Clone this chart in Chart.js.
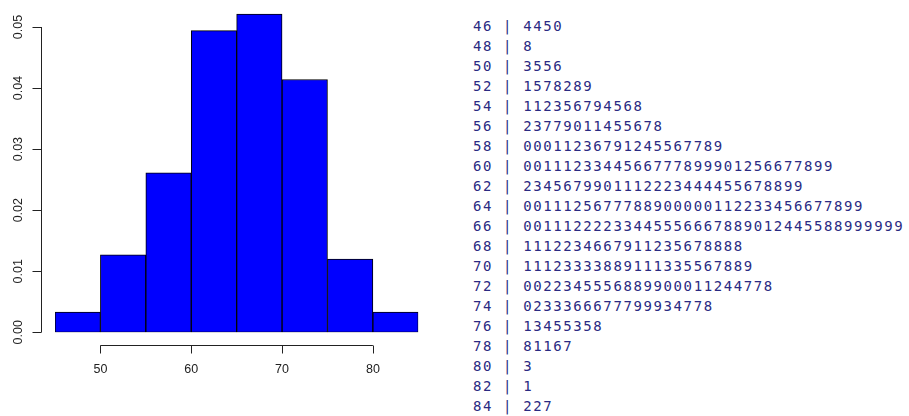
<!DOCTYPE html>
<html>
<head>
<meta charset="utf-8">
<script src="https://cdn.jsdelivr.net/npm/chart.js@4"></script>
<style>
  html, body { margin: 0; padding: 0; background: #fff; }
  body { width: 909px; height: 416px; position: relative; overflow: hidden; }
  #histWrap { position: absolute; left: 0; top: 0; width: 460px; height: 416px; }
  #stemLeaf {
    position: absolute; left: 473px; top: 15.5px; margin: 0;
    font: 14px "DejaVu Sans Mono", monospace; letter-spacing: 1.6px;
    line-height: 20.03px; color: #2a2a82;
  }
</style>
</head>
<body>
<div id="histWrap"><canvas id="histChart"></canvas></div>
<pre id="stemLeaf"></pre>
<script>
// histogram (density scale)
const binEdges = [45, 50, 55, 60, 65, 70, 75, 80, 85];
const densities = [0.0033, 0.0127, 0.0261, 0.0494, 0.0521, 0.0414, 0.0120, 0.0033];
const xTicks = [50, 60, 70, 80];
const yTicks = [0, 0.01, 0.02, 0.03, 0.04, 0.05];
const yTickLabels = ['0.00', '0.01', '0.02', '0.03', '0.04', '0.05'];

// stem-and-leaf display
const stems = ['46', '48', '50', '52', '54', '56', '58', '60', '62', '64',
               '66', '68', '70', '72', '74', '76', '78', '80', '82', '84'];
const leaves = [
    '4450',
    '8',
    '3556',
    '1578289',
    '112356794568',
    '23779011455678',
    '00011236791245567789',
    '0011123344566777899901256677899',
    '2345679901112223444455678899',
    '0011125677788900000112233456677899',
    '00111222233445556667889012445588999999',
    '1112234667911235678888',
    '11123333889111335567889',
    '0022345556889900011244778',
    '0233366677799934778',
    '13455358',
    '81167',
    '3',
    '1',
    '227'
];

document.getElementById('stemLeaf').textContent =
    stems.map((s, i) => s + ' | ' + leaves[i]).join('\n');

const barData = densities.map((d, i) => ({ x: (binEdges[i] + binEdges[i + 1]) / 2, y: d }));

// R-style axes, detached from the plot region
const rAxes = {
    id: 'rAxes',
    afterDraw(chart) {
        const { ctx, chartArea, scales: { x, y } } = chart;
        ctx.save();
        ctx.strokeStyle = '#222';
        ctx.fillStyle = '#222';
        ctx.lineWidth = 1;
        ctx.font = '12.5px "Liberation Sans", Arial, sans-serif';

        // y axis
        const ax = Math.round(chartArea.left - 14) + 0.5;
        ctx.beginPath();
        ctx.moveTo(ax, y.getPixelForValue(yTicks[0]));
        ctx.lineTo(ax, y.getPixelForValue(yTicks[yTicks.length - 1]));
        yTicks.forEach(v => {
            const py = Math.round(y.getPixelForValue(v)) + 0.5;
            ctx.moveTo(ax, py);
            ctx.lineTo(ax - 9, py);
        });
        ctx.stroke();
        ctx.textAlign = 'center';
        ctx.textBaseline = 'middle';
        yTicks.forEach((v, i) => {
            ctx.save();
            ctx.translate(ax - 23, y.getPixelForValue(v));
            ctx.rotate(-Math.PI / 2);
            ctx.fillText(yTickLabels[i], 0, 0);
            ctx.restore();
        });

        // x axis
        const ay = Math.round(chartArea.bottom + 13) + 0.5;
        ctx.beginPath();
        ctx.moveTo(x.getPixelForValue(xTicks[0]), ay);
        ctx.lineTo(x.getPixelForValue(xTicks[xTicks.length - 1]), ay);
        xTicks.forEach(v => {
            const px = Math.round(x.getPixelForValue(v)) + 0.5;
            ctx.moveTo(px, ay);
            ctx.lineTo(px, ay + 8);
        });
        ctx.stroke();
        xTicks.forEach(v => {
            ctx.fillText(String(v), x.getPixelForValue(v), ay + 24);
        });
        ctx.restore();
    }
};

new Chart(document.getElementById('histChart'), {
    type: 'bar',
    data: {
        datasets: [{
            data: barData,
            backgroundColor: '#0000ff',
            borderColor: '#000',
            borderWidth: 1,
            borderSkipped: false,
            barPercentage: 1,
            categoryPercentage: 1
        }]
    },
    options: {
        responsive: true,
        maintainAspectRatio: false,
        animation: false,
        layout: { padding: { left: 55, right: 41.7, top: 2.6, bottom: 83.7 } },
        plugins: {
            legend: { display: false },
            tooltip: { enabled: false }
        },
        scales: {
            x: { type: 'linear', min: 45, max: 85, offset: false, display: false },
            y: { min: 0, max: 0.054, display: false }
        }
    },
    plugins: [rAxes]
});
</script>
</body>
</html>
